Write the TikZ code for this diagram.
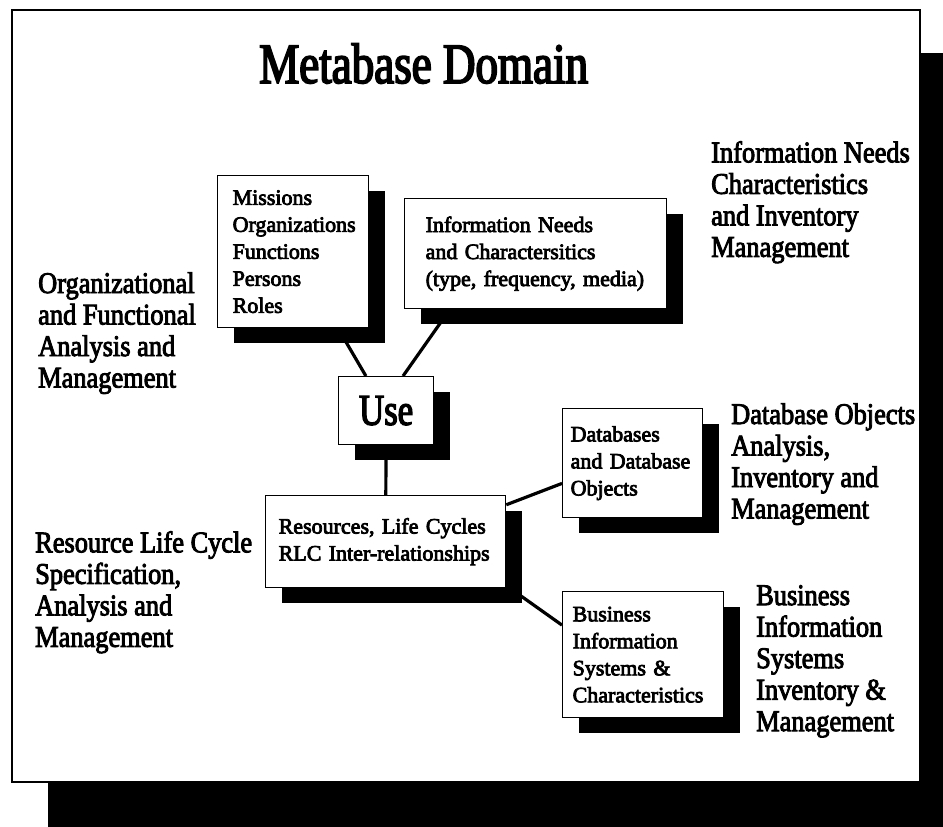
\documentclass[tikz,border=0pt]{standalone}
\usepackage{fontspec}
\setmainfont{Liberation Serif}[FakeBold=3.5]
\newfontfamily\lblfam{Liberation Serif}[FakeStretch=0.88,FakeBold=3]
\newfontfamily\ttlfam{Liberation Serif}[FakeStretch=0.79,FakeBold=3]
\usetikzlibrary{shadows}
\tikzset{
  dombox/.style={draw, line width=1.3pt, fill=white, anchor=north west, align=left,
    inner ysep=0pt, drop shadow={shadow xshift=16pt, shadow yshift=-15pt, fill=black, opacity=1},
    font=\fontsize{22}{27}\selectfont},
  domlabel/.style={anchor=north west, align=left, inner sep=0pt, font=\lblfam\fontsize{30}{31.5}\selectfont},
  link/.style={line width=3.2pt}
}

\begin{document}
\begin{tikzpicture}[x=1pt,y=-1pt]
\useasboundingbox (0,0) rectangle (943,827);
\fill [black] (48,53) rectangle (943,827);
\draw [line width=2pt, fill=white] (12,10) rectangle (920,782);

\node [anchor=base west, inner sep=0pt, font=\ttlfam\fontsize{57}{57}\selectfont] (title) at (259,83) {Metabase Domain};

\node [domlabel] (orglbl) at (38,272) {Organizational\\and Functional\\Analysis and\\Management};
\node [domlabel] (rlclbl) at (35,531) {Resource Life Cycle\\Specification,\\Analysis and\\Management};
\node [domlabel] (infolbl) at (711,141) {Information Needs\\Characteristics\\and Inventory\\Management};
\node [domlabel] (dblbl) at (731,403) {Database Objects\\Analysis,\\Inventory and\\Management};
\node [domlabel] (buslbl) at (756,585) {Business\\Information\\Systems\\Inventory \&\\Management};

\node [dombox, text width=121pt, inner xsep=15pt, minimum height=152pt] (missions) at (217,175) {Missions\\Organizations\\Functions\\Persons\\Roles};
\node [dombox, text width=220pt, inner xsep=21pt, minimum height=110pt] (info) at (404,198) {Information Needs\\and Charactersitics\\(type, frequency, media)};
\node [dombox, minimum width=95pt, minimum height=68pt, font=\ttlfam\fontsize{44}{44}\selectfont] (use) at (338,376) {Use};
\node [dombox, text width=124pt, inner xsep=8pt, minimum height=109pt] (db) at (562,408) {Databases\\and Database\\Objects};
\node [dombox, text width=214pt, inner xsep=13pt, minimum height=92pt] (res) at (265,495) {Resources, Life Cycles\\RLC Inter-relationships};
\node [dombox, text width=141pt, inner xsep=10pt, minimum height=126pt] (bus) at (562,591) {Business\\Information\\Systems \&\\Characteristics};

\draw [link] (missions) -- (use);
\draw [link] (info.213) -- (use.64);
\draw [link] (use) -- (res);
\draw [link] (res.17) -- (db.196);
\draw [link] (res.340) -- (bus.160);

\end{tikzpicture}
\end{document}
